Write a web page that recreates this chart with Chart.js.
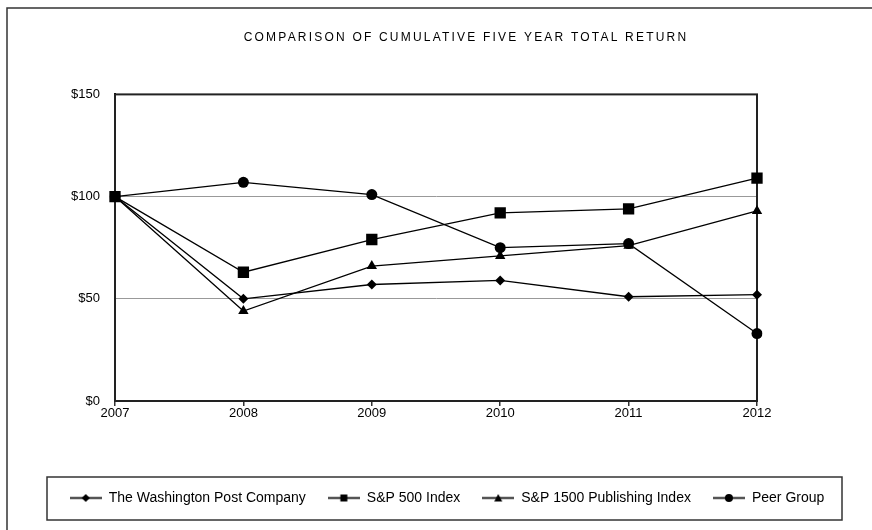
<!DOCTYPE html>
<html>
<head>
<meta charset="utf-8">
<script src="https://cdn.jsdelivr.net/npm/chart.js@4.4.1/dist/chart.umd.min.js"></script>
<style>
  html, body { margin: 0; padding: 0; background: #fff; }
  canvas { display: block; }
</style>
</head>
<body>
<canvas id="c" width="872" height="530"></canvas>
<script>
const years = ['2007', '2008', '2009', '2010', '2011', '2012'];
const seriesNames = ['The Washington Post Company', 'S&P 500 Index', 'S&P 1500 Publishing Index', 'Peer Group'];
const washPost = [100, 50, 57, 59, 51, 52];
const sp500 = [100, 63, 79, 92, 94, 109];
const sp1500Pub = [100, 44, 66, 71, 76, 93];
const peerGroup = [100, 107, 101, 75, 77, 33];
const yTicks = [0, 50, 100, 150];
const titleText = 'COMPARISON OF CUMULATIVE FIVE YEAR TOTAL RETURN';

const FONT = "Arial, 'Liberation Sans', sans-serif";
const styles = ['rectRot', 'rect', 'triangle', 'circle'];
const radii = [5, 8, 6, 5.5];

function legendIcon(style) {
  const cv = document.createElement('canvas');
  cv.width = 32; cv.height = 12;
  const g = cv.getContext('2d');
  g.strokeStyle = '#555'; g.lineWidth = 2.5;
  g.beginPath(); g.moveTo(0, 6); g.lineTo(32, 6); g.stroke();
  g.fillStyle = '#000';
  g.beginPath();
  if (style === 'rectRot') { g.moveTo(16, 2); g.lineTo(20, 6); g.lineTo(16, 10); g.lineTo(12, 6); g.closePath(); }
  else if (style === 'rect') { g.rect(12.5, 2.5, 7, 7); }
  else if (style === 'triangle') { g.moveTo(16, 2); g.lineTo(20, 9.5); g.lineTo(12, 9.5); g.closePath(); }
  else { g.arc(16, 6, 4, 0, Math.PI * 2); }
  g.fill();
  return cv;
}
const icons = styles.map(legendIcon);

const allSeries = [washPost, sp500, sp1500Pub, peerGroup];
const datasets = allSeries.map((d, i) => ({
  label: seriesNames[i],
  data: d,
  borderColor: '#000',
  backgroundColor: '#000',
  borderWidth: 1.3,
  pointStyle: styles[i],
  pointRadius: radii[i],
  pointHoverRadius: radii[i],
  pointBackgroundColor: '#000',
  pointBorderColor: '#000',
  pointBorderWidth: 0,
  tension: 0,
  yAxisID: 'y'
}));

const decorPlugin = {
  id: 'decor',
  beforeDraw(chart) {
    const ctx = chart.ctx;
    ctx.save();
    ctx.fillStyle = '#fff';
    ctx.fillRect(0, 0, chart.width, chart.height);
    ctx.strokeStyle = '#333';
    ctx.lineWidth = 1.5;
    ctx.beginPath();
    ctx.moveTo(7, chart.height);
    ctx.lineTo(7, 8);
    ctx.lineTo(chart.width, 8);
    ctx.stroke();
    ctx.restore();
    const t = chart.titleBlock;
    if (t && !t._patched) {
      const orig = t.draw.bind(t);
      t.draw = function () {
        const c = chart.ctx;
        c.save();
        c.translate(19, 0);
        c.letterSpacing = '2.2px';
        orig();
        c.restore();
      };
      t._patched = true;
    }
  },
  beforeDatasetsDraw(chart) {
    const a = chart.chartArea;
    const ctx = chart.ctx;
    ctx.save();
    ctx.strokeStyle = '#222';
    ctx.lineWidth = 2;
    ctx.strokeRect(a.left, a.top, a.right - a.left, a.bottom - a.top);
    ctx.restore();
  },
  afterDraw(chart) {
    const l = chart.legend;
    const ctx = chart.ctx;
    ctx.save();
    ctx.strokeStyle = '#333';
    ctx.lineWidth = 1.5;
    ctx.strokeRect(l.left + 25, l.top + 8, (l.right - 30) - (l.left + 25), (l.bottom + 5) - (l.top + 8));
    ctx.restore();
  }
};

new Chart(document.getElementById('c'), {
  type: 'line',
  data: { labels: years, datasets },
  plugins: [decorPlugin],
  options: {
    responsive: false,
    animation: false,
    layout: { padding: { left: 22, right: 0, top: 0, bottom: 15 } },
    plugins: {
      title: {
        display: true,
        text: titleText,
        color: '#000',
        font: { family: FONT, size: 12, weight: 'normal' },
        padding: { top: 30, bottom: 50 }
      },
      legend: {
        display: true,
        position: 'bottom',
        labels: {
          usePointStyle: true,
          pointStyleWidth: 32,
          padding: 22,
          color: '#000',
          font: { family: FONT, size: 14 },
          generateLabels(chart) {
            return chart.data.datasets.map((ds, i) => ({
              text: ds.label,
              pointStyle: icons[i],
              fillStyle: '#000',
              strokeStyle: '#000',
              lineWidth: 0,
              hidden: false,
              datasetIndex: i,
              fontColor: '#000'
            }));
          }
        }
      },
      tooltip: { enabled: false }
    },
    scales: {
      x: {
        type: 'category',
        offset: false,
        grid: { display: true, drawOnChartArea: false, drawTicks: true, tickLength: 5, color: '#333', lineWidth: 1.5 },
        border: { display: true, color: '#000', width: 2 },
        ticks: { color: '#000', font: { family: FONT, size: 13 }, padding: 0, maxRotation: 0, autoSkip: false },
        afterFit(s) { s.height = 68; }
      },
      y: {
        type: 'linear',
        min: 0,
        max: 150,
        afterBuildTicks(s) { s.ticks = yTicks.map(v => ({ value: v })); },
        grid: {
          drawTicks: false,
          color: (c) => (c.tick && (c.tick.value === 50 || c.tick.value === 100)) ? '#999' : 'rgba(0,0,0,0)',
          lineWidth: 1
        },
        border: { display: true, color: '#000', width: 2 },
        ticks: { color: '#000', font: { family: FONT, size: 13 }, padding: 15, callback: (v) => '$' + v },
        afterFit(s) { s.width = 93; }
      },
      y2: {
        type: 'linear',
        position: 'right',
        display: true,
        min: 0,
        max: 150,
        grid: { display: false, drawTicks: false },
        border: { display: false },
        ticks: { display: false },
        afterFit(s) { s.width = 115; }
      }
    }
  }
});
</script>
</body>
</html>
